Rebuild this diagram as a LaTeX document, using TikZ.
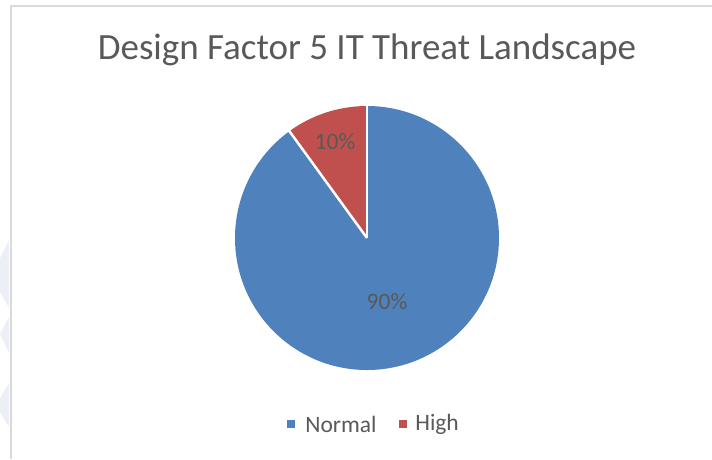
\documentclass[tikz,border=0pt]{standalone}
\usepackage{fontspec}
\setmainfont{Carlito}
\usepackage{xcolor}
\usetikzlibrary{positioning}

\definecolor{normalblue}{HTML}{4F81BD}
\definecolor{highred}{HTML}{C0504D}
\definecolor{textgray}{HTML}{595959}
\definecolor{framegray}{HTML}{D9D9D9}
\definecolor{markblue}{HTML}{ECF0F6}

\begin{document}
\begin{tikzpicture}[x=1pt, y=-1pt,
  label text/.style={text=textgray, font=\fontsize{23.5}{28}\selectfont, inner sep=0pt},
  key box/.style={minimum size=8pt, inner sep=0pt}]
 \useasboundingbox (0,0) rectangle (712,459);

 % faint marks at the left edge
 \fill[markblue] (0,258) -- (9,240) -- (9,308) -- (0,292) -- cycle;
 \fill[markblue] (0,334) -- (9,317) -- (9,353) -- cycle;
 \fill[markblue] (0,398) -- (9,383) -- (9,427) -- (0,412) -- cycle;

 % chart frame (only top and left are visible)
 \draw[framegray, line width=1.5pt] (712,6) -- (11,6) -- (11,459);

 \node[text=textgray, font=\fontsize{37}{44}\selectfont, inner sep=0pt, anchor=base] (title) at (367,59) {Design Factor 5 IT Threat Landscape};

 % the pie
 \begin{scope}[shift={(367,238)}, y=1pt]
  \fill[normalblue] (0,0) -- (90:132) arc (90:-234:132) -- cycle;
  \fill[highred] (0,0) -- (90:132) arc (90:126:132) -- cycle;
  \draw[white, line width=2.5pt] (0,0) -- (90:134);
  \draw[white, line width=2.5pt] (0,0) -- (126:134);
 \end{scope}

 \node[label text] (high pct) at (335,142) {10\%};
 \node[label text] (normal pct) at (387,302) {90\%};

 % legend
 \node[key box, fill=normalblue] (normal key) at (291,424) {};
 \node[label text, right=10pt of normal key] (normal name) {Normal};
 \node[key box, fill=highred, right=22pt of normal name] (high key) {};
 \node[label text, right=8pt of high key] (high name) {High};
\end{tikzpicture}
\end{document}
